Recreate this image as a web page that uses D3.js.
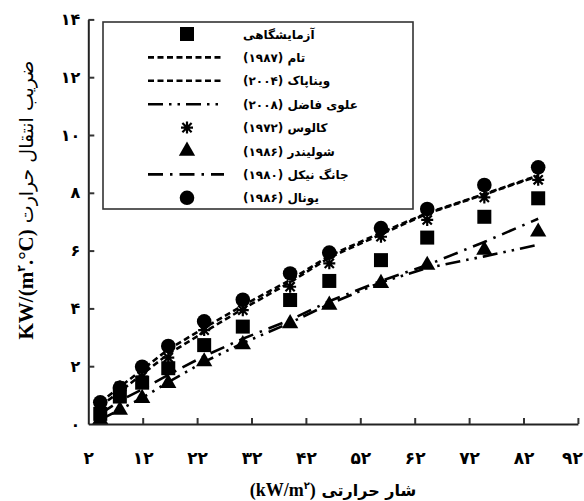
<!DOCTYPE html>
<html><head><meta charset="utf-8">
<script src="https://cdn.jsdelivr.net/npm/d3@7/dist/d3.min.js"></script>
<style>body{margin:0;background:#fff}svg{display:block}</style>
</head><body>
<svg id="chart" width="584" height="501"></svg>
<script>
// ---- data ----
const heatFlux = [4.2, 7.8, 11.9, 16.7, 23.3, 30.4, 39.1, 46.3, 55.8, 64.3, 74.8, 84.7];
const experimental = [0.35, 0.95, 1.43, 1.93, 2.73, 3.37, 4.29, 4.95, 5.67, 6.45, 7.17, 7.81];
const tam1987 = [0.75, 1.28, 1.88, 2.58, 3.32, 4.1, 4.98, 5.82, 6.62, 7.3, 7.96, 8.6];
const vinapak2004 = [0.62, 1.12, 1.72, 2.42, 3.18, 3.98, 4.9, 5.76, 6.56, 7.28, 7.94, 8.58];
const alaviFazel2008 = [0.15, 0.5, 0.9, 1.45, 2.15, 2.8, 3.5, 4.15, 4.9, 5.4, 5.8, 6.2];
const kalus1972 = [0.55, 1.3, 1.64, 2.3, 3.25, 3.94, 4.75, 5.56, 6.48, 7.06, 7.84, 8.45];
const schulinder1986 = [0.15, 0.48, 0.89, 1.41, 2.16, 2.75, 3.48, 4.12, 4.87, 5.5, 6.02, 6.65];
const jungNickel1980 = [0.35, 0.8, 1.2, 1.7, 2.35, 2.95, 3.6, 4.25, 4.95, 5.5, 6.3, 7.1];
const yunal1986 = [0.75, 1.25, 1.98, 2.7, 3.55, 4.3, 5.21, 5.93, 6.78, 7.44, 8.27, 8.88];

const xTicks = [2, 12, 22, 32, 42, 52, 62, 72, 82, 92];
const yTicks = [0, 2, 4, 6, 8, 10, 12, 14];
const legendLabels = ["آزمایشگاهی", "تام (۱۹۸۷)", "ویناپاک (۲۰۰۴)", "علوی فاضل (۲۰۰۸)",
  "کالوس (۱۹۷۲)", "شولیندر (۱۹۸۶)", "جانگ نیکل (۱۹۸۰)", "یونال (۱۹۸۶)"];
const xTitlePersian = "شار حرارتی";
const yTitlePersian = "ضریب انتقال حرارت";

// ---- setup ----
const fa = n => String(n).replace(/\d/g, d => "۰۱۲۳۴۵۶۷۸۹"[d]);
const svg = d3.select("#chart");
const x = d3.scaleLinear().domain([2, 92]).range([88.3, 577.9]);
const y = d3.scaleLinear().domain([0, 14]).range([424, 19.4]);

const series = [
  {name: legendLabels[0], vals: experimental, type: "square"},
  {name: legendLabels[1], vals: tam1987, type: "line", dash: "6,3.5"},
  {name: legendLabels[2], vals: vinapak2004, type: "line", dash: "6,3.5"},
  {name: legendLabels[3], vals: alaviFazel2008, type: "line", dash: "15,6,2.5,6,2.5,6"},
  {name: legendLabels[4], vals: kalus1972, type: "asterisk"},
  {name: legendLabels[5], vals: schulinder1986, type: "triangle"},
  {name: legendLabels[6], vals: jungNickel1980, type: "line", dash: "15,7,2.5,7"},
  {name: legendLabels[7], vals: yunal1986, type: "circle"}
];

function drawMarker(g, type, cx, cy) {
  if (type === "square") {
    g.append("rect").attr("x", cx - 7).attr("y", cy - 7).attr("width", 14).attr("height", 14).attr("fill", "#000");
  } else if (type === "circle") {
    g.append("circle").attr("cx", cx).attr("cy", cy).attr("r", 7.3).attr("fill", "#000");
  } else if (type === "triangle") {
    g.append("path").attr("transform", `translate(${cx},${cy})`)
      .attr("d", d3.symbol(d3.symbolTriangle, 115)()).attr("fill", "#000");
  } else if (type === "asterisk") {
    const r = 6, d = 4.6;
    g.append("path").attr("d",
      `M${cx - r},${cy}L${cx + r},${cy}M${cx},${cy - r}L${cx},${cy + r}` +
      `M${cx - d},${cy - d}L${cx + d},${cy + d}M${cx - d},${cy + d}L${cx + d},${cy - d}`)
      .attr("stroke", "#000").attr("stroke-width", 2.2).attr("fill", "none");
  }
}

// ---- lines ----
const plot = svg.append("g");
series.filter(s => s.type === "line").forEach(s => {
  const line = d3.line().x((d, i) => x(heatFlux[i])).y(d => y(d));
  plot.append("path").datum(s.vals).attr("d", line)
    .attr("fill", "none").attr("stroke", "#000").attr("stroke-width", 2.6)
    .attr("stroke-dasharray", s.dash);
});
// ---- markers ----
["square", "asterisk", "triangle", "circle"].forEach(t => {
  const s = series.find(d => d.type === t);
  const g = plot.append("g");
  s.vals.forEach((v, i) => drawMarker(g, t, x(heatFlux[i]), y(v)));
});

// ---- axes ----
const xAxis = d3.axisBottom(x).tickValues(xTicks).tickSizeInner(-6).tickSizeOuter(0).tickPadding(28).tickFormat(fa);
const yAxis = d3.axisLeft(y).tickValues(yTicks).tickSizeInner(-6).tickSizeOuter(0).tickPadding(8).tickFormat(fa);
const gx = svg.append("g").attr("transform", `translate(0,${y(0)})`).call(xAxis);
const gy = svg.append("g").attr("transform", `translate(${x(2)},0)`).call(yAxis);
[gx, gy].forEach(g => {
  g.select(".domain").attr("stroke", "#222").attr("stroke-width", 2);
  g.selectAll(".tick line").attr("stroke", "#333").attr("stroke-width", 2);
  g.selectAll(".tick text").attr("font-family", "DejaVu Sans").attr("font-weight", "bold").attr("fill", "#000");
});
gx.selectAll(".tick text").attr("font-size", 17);
gy.selectAll(".tick text").attr("font-size", 16);
gx.selectAll(".tick").filter(d => d === 2).select("line").remove();
gx.selectAll(".tick").filter(d => d === 92).select("text").attr("dx", -6);
gy.selectAll(".tick").filter(d => d === 0).select("line").remove();

// ---- axis titles ----
const xt = svg.append("text").attr("x", 333).attr("y", 496).attr("text-anchor", "middle")
  .attr("font-weight", "bold").attr("fill", "#000");
xt.append("tspan").attr("font-family", "Liberation Serif").attr("font-size", 18).text("(kW/m");
xt.append("tspan").attr("font-family", "DejaVu Sans").attr("font-size", 10).attr("dy", -7).text("۲");
xt.append("tspan").attr("font-family", "Liberation Serif").attr("font-size", 18).attr("dy", 7).text(")");
xt.append("tspan").attr("font-family", "DejaVu Sans").attr("font-size", 16).text(" " + xTitlePersian);

const yt = svg.append("text").attr("transform", "translate(33,200) rotate(-90)").attr("text-anchor", "middle").attr("fill", "#000");
yt.append("tspan").attr("font-family", "Liberation Serif").attr("font-weight", "bold").attr("font-size", 21).text("KW/(m");
yt.append("tspan").attr("font-family", "DejaVu Sans").attr("font-weight", "bold").attr("font-size", 11).attr("dy", -8).text("۲");
yt.append("tspan").attr("font-family", "Liberation Serif").attr("font-weight", "bold").attr("font-size", 21).attr("dy", 8).text(".°C)");
yt.append("tspan").attr("font-family", "DejaVu Sans").attr("font-size", 19).text(" " + yTitlePersian);

// ---- legend ----
const lg = svg.append("g");
lg.append("rect").attr("x", 103).attr("y", 22).attr("width", 310).attr("height", 187)
  .attr("fill", "#fff").attr("stroke", "#333").attr("stroke-width", 1.6);
series.forEach((s, i) => {
  const cy = 34 + i * 23.4;
  if (s.type === "line") {
    lg.append("line").attr("x1", 148).attr("x2", 224).attr("y1", cy).attr("y2", cy)
      .attr("stroke", "#000").attr("stroke-width", 2.6).attr("stroke-dasharray", s.dash);
  } else {
    drawMarker(lg, s.type, 187, cy);
  }
  lg.append("text").attr("x", 243).attr("y", cy + 4.5).attr("direction", "rtl")
    .attr("text-anchor", "end").attr("font-family", "DejaVu Sans").attr("font-weight", "bold")
    .attr("font-size", 12).attr("fill", "#000").text(s.name);
});
</script>
</body></html>
